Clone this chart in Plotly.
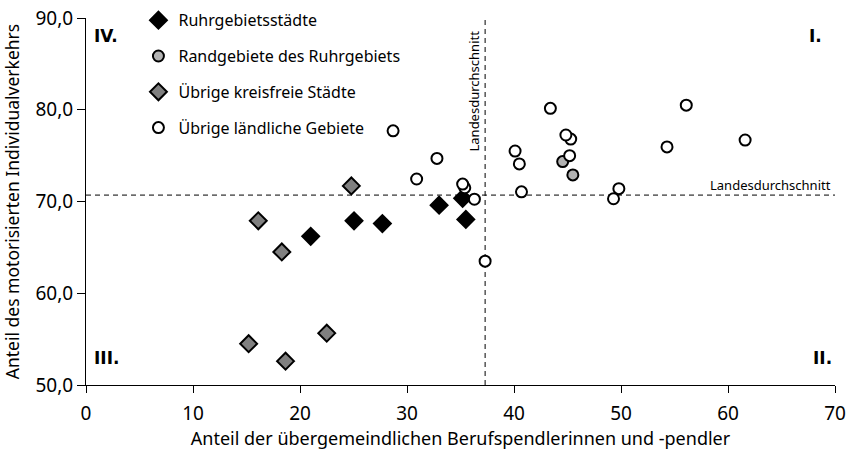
import plotly.graph_objects as go

# Data
ruhr_x = [21.0, 25.05, 27.7, 33.0, 35.2, 35.5]
ruhr_y = [66.2, 67.9, 67.6, 69.6, 70.35, 68.05]
rand_x = [44.55, 45.5]
rand_y = [74.35, 72.9]
kreis_x = [16.1, 18.3, 24.8, 15.2, 18.65, 22.5]
kreis_y = [67.9, 64.5, 71.7, 54.5, 52.6, 55.65]
land_x = [28.7, 32.8, 30.9, 35.4, 35.2, 36.3, 37.3, 40.1, 40.5, 40.7, 43.4,
          45.3, 44.85, 45.2, 49.8, 49.3, 54.3, 56.1, 61.6]
land_y = [77.7, 74.7, 72.45, 71.5, 71.9, 70.25, 63.5, 75.5, 74.1, 71.05, 80.15,
          76.8, 77.25, 75.0, 71.4, 70.3, 75.95, 80.5, 76.7]
avg_x = 37.3
avg_y = 70.7
x_ticks = [0, 10, 20, 30, 40, 50, 60, 70]
y_ticks = [50, 60, 70, 80, 90]

FONT = "Noto Sans"
BOLD = "DejaVu Sans"

fig = go.Figure()
fig.add_trace(go.Scatter(x=ruhr_x, y=ruhr_y, mode="markers", name="Ruhrgebietsstädte",
                         legendgroup="a",
                         marker=dict(symbol="diamond", size=13, color="black",
                                     line=dict(color="black", width=2))))
fig.add_trace(go.Scatter(x=rand_x, y=rand_y, mode="markers", name="Randgebiete des Ruhrgebiets",
                         legendgroup="b",
                         marker=dict(symbol="circle", size=11, color="#b3b3b3",
                                     line=dict(color="black", width=2))))
fig.add_trace(go.Scatter(x=kreis_x, y=kreis_y, mode="markers", name="Übrige kreisfreie Städte",
                         legendgroup="c",
                         marker=dict(symbol="diamond", size=13, color="#808080",
                                     line=dict(color="black", width=2))))
fig.add_trace(go.Scatter(x=land_x, y=land_y, mode="markers", name="Übrige ländliche Gebiete",
                         legendgroup="d",
                         marker=dict(symbol="circle", size=11, color="white",
                                     line=dict(color="black", width=2))))

fig.add_shape(type="line", x0=avg_x, x1=avg_x, y0=50, y1=90, xref="x", yref="y",
              line=dict(color="black", width=1, dash="5px,4px"), layer="below")
fig.add_shape(type="line", x0=0, x1=70, y0=avg_y, y1=avg_y, xref="x", yref="y",
              line=dict(color="black", width=1, dash="5px,4px"), layer="below")

fig.add_annotation(x=avg_x, y=82.0, xref="x", yref="y", text="Landesdurchschnitt",
                   textangle=-90, showarrow=False, xshift=-11,
                   font=dict(family=FONT, size=13, color="black"))
fig.add_annotation(x=69.8, y=avg_y, xref="x", yref="y", text="Landesdurchschnitt",
                   showarrow=False, xanchor="right", yanchor="bottom", yshift=-1,
                   font=dict(family=FONT, size=13, color="black"))

for txt, px, py, xa in [("IV.", 0.008, 0.95, "left"), ("I.", 0.985, 0.95, "right"),
                         ("III.", 0.008, 0.073, "left"), ("II.", 0.998, 0.073, "right")]:
    fig.add_annotation(x=px, y=py, xref="paper", yref="paper", text="<b>%s</b>" % txt,
                       showarrow=False, xanchor=xa, yanchor="middle",
                       font=dict(family=BOLD, size=17, color="black"))

fig.update_layout(
    width=847, height=450,
    margin=dict(l=86, r=12, t=18, b=65, autoexpand=False),
    paper_bgcolor="white", plot_bgcolor="white",
    separators=",.",
    font=dict(family=FONT, size=16, color="black"),
    showlegend=True,
    legend=dict(x=0.07, y=1.04, xanchor="left", yanchor="top",
                bgcolor="rgba(0,0,0,0)", font=dict(family=FONT, size=16),
                tracegroupgap=12, itemsizing="trace"),
    xaxis=dict(range=[0, 70], tickvals=x_ticks, showgrid=False, zeroline=False,
               showline=True, linecolor="black", linewidth=1,
               ticks="outside", ticklen=7, tickcolor="black", automargin=False,
               tickfont=dict(size=19), ticklabelstandoff=4,
               title=dict(text="Anteil der übergemeindlichen Berufspendlerinnen und -pendler",
                          font=dict(size=18))),
    yaxis=dict(range=[50, 90], tickvals=y_ticks, tickformat=".1f", showgrid=False,
               zeroline=False, showline=True, linecolor="black", linewidth=1,
               ticks="outside", ticklen=8, tickcolor="black", automargin=False,
               tickfont=dict(size=19),
               title=dict(text="Anteil des motorisierten Individualverkehrs",
                          font=dict(size=17.5))),
)

fig.write_html("out.html", config={"displayModeBar": False},
               post_script="document.body.style.margin='0px';")
